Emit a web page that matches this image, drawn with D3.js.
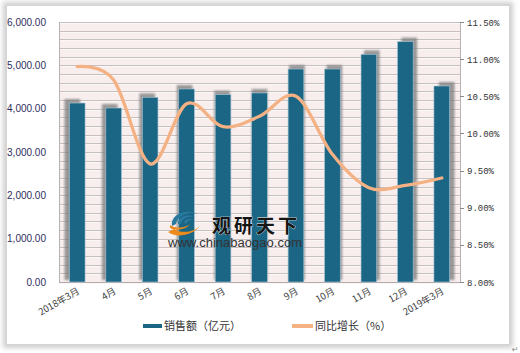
<!DOCTYPE html>
<html><head><meta charset="utf-8">
<script src="https://cdn.jsdelivr.net/npm/d3@7"></script>
<style>body{margin:0;background:#fff}svg{display:block}</style>
</head><body>
<svg id="c" width="520" height="353"></svg>
<script>
const categories = ["2018年3月","4月","5月","6月","7月","8月","9月","10月","11月","12月","2019年3月"];
const sales = [4130, 4015, 4262, 4454, 4323, 4362, 4915, 4915, 5254, 5546, 4523];
const growth = [10.90, 10.72, 9.59, 10.40, 10.09, 10.23, 10.50, 9.72, 9.27, 9.30, 9.40];
const leftTicks = [0,1000,2000,3000,4000,5000,6000];
const rightTicks = [8.0,8.5,9.0,9.5,10.0,10.5,11.0,11.5];
const seriesNames = ["销售额（亿元）","同比增长（%）"];

const svg = d3.select("#c");
const W=520,H=353;
const L=59,R=460,T=22,B=282;

const defs = svg.append("defs");
const f1 = defs.append("filter").attr("id","blur").attr("x","-50%").attr("y","-50%").attr("width","200%").attr("height","200%");
f1.append("feGaussianBlur").attr("stdDeviation",1.3);
const f2 = defs.append("filter").attr("id","fblur").attr("x","-10%").attr("y","-10%").attr("width","120%").attr("height","120%");
f2.append("feGaussianBlur").attr("stdDeviation",2.5);

// frame with shadow
svg.append("rect").attr("x",0).attr("y",0).attr("width",W).attr("height",H).attr("fill","#fff");
svg.append("rect").attr("x",3).attr("y",2).attr("width",510).attr("height",346).attr("fill","#cfcfcf").attr("filter","url(#fblur)");
svg.append("rect").attr("x",6.5).attr("y",5.5).attr("width",503).attr("height",339).attr("fill","#fff").attr("stroke","#d4d4d4");

const x = d3.scalePoint().domain(categories).range([L,R]).padding(0.5);
const step = x.step();
const bw = step*0.43;
const y = d3.scaleLinear().domain([0,6000]).range([B,T]);
const y2 = d3.scaleLinear().domain([8,11.5]).range([B,T]);

// plot background
svg.append("rect").attr("x",L).attr("y",T).attr("width",R-L).attr("height",B-T).attr("fill","#f8eeee");
// gridlines every 200
const grid = d3.range(0,6001,200);
svg.append("g").selectAll("line").data(grid).join("line")
  .attr("x1",L).attr("x2",R).attr("y1",d=>Math.round(y(d))+0.5).attr("y2",d=>Math.round(y(d))+0.5)
  .attr("stroke","#c6c0c0").attr("stroke-width",1);
svg.append("g").selectAll("line").data(grid).join("line")
  .attr("x1",L).attr("x2",R).attr("y1",d=>Math.round(y(d))+1.5).attr("y2",d=>Math.round(y(d))+1.5)
  .attr("stroke","#fbf7f7").attr("stroke-width",1);
// walls
svg.append("line").attr("x1",L+0.5).attr("x2",L+0.5).attr("y1",T).attr("y2",B).attr("stroke","#b8b2b2");
svg.append("line").attr("x1",R+0.5).attr("x2",R+0.5).attr("y1",T).attr("y2",B).attr("stroke","#b8b2b2");
svg.append("line").attr("x1",L).attr("x2",R).attr("y1",B+0.5).attr("y2",B+0.5).attr("stroke","#b0aaaa");

const mid = (L+R)/2;
// bar shadows
svg.append("g").attr("filter","url(#blur)").selectAll("rect").data(sales).join("rect")
  .attr("x",(d,i)=>x(categories[i])-bw/2+(x(categories[i])-mid)*0.027)
  .attr("y",d=>y(d)-4).attr("width",bw).attr("height",d=>B-y(d)+4-2)
  .attr("fill","#7a7a7a").attr("opacity",0.75);
// bars
svg.append("g").selectAll("rect").data(sales).join("rect")
  .attr("x",(d,i)=>x(categories[i])-bw/2).attr("y",d=>y(d)).attr("width",bw).attr("height",d=>B-y(d))
  .attr("fill","#1b6585").attr("stroke","#a9c7d6").attr("stroke-width",0.6);

// watermark
const wm = svg.append("g");
wm.append("path").attr("d","M172,226 C170,214 186,208 198,214 C190,211 178,214 176,224 Z").attr("fill","#2a7aa0");
wm.append("path").attr("d","M178,224 C177,217 187,213 195,217 C188,216 182,218 181,224 Z").attr("fill","#2a7aa0");
wm.append("path").attr("d","M184,222 C185,219 190,218 193,220 C189,220 187,221 186,224 Z").attr("fill","#2a7aa0");
wm.append("path").attr("d","M168,232 C176,238 192,236 200,226 C194,232 182,234 174,229 Z").attr("fill","#ec8a1c");
wm.append("path").attr("d","M170,225 C176,229 186,228 190,224 C186,230 176,231 170,228 Z").attr("fill","#ec8a1c");
wm.append("text").attr("x",212).attr("y",233).attr("font-family","Noto Sans CJK SC").attr("font-weight","bold")
  .attr("font-size",19).attr("letter-spacing",3).attr("fill","#151515").attr("stroke","#fff").attr("stroke-width",0.6).attr("paint-order","stroke")
  .text("观研天下");
wm.append("text").attr("x",168).attr("y",247).attr("font-family","Liberation Sans, Arial").attr("font-size",12)
  .attr("textLength",134).attr("lengthAdjust","spacingAndGlyphs").attr("fill","#333").text("www.chinabaogao.com");

// line
const line = d3.line().x((d,i)=>x(categories[i])).y(d=>y2(d)).curve(d3.curveCardinal.tension(0));
svg.append("path").datum(growth).attr("d",line).attr("fill","none").attr("stroke","#f4b183").attr("stroke-width",3.3).attr("stroke-linecap","round");

// left axis labels
svg.append("g").selectAll("text").data(leftTicks).join("text")
  .attr("x",46).attr("y",d=>y(d)+3.5).attr("text-anchor","end")
  .attr("font-family","Liberation Sans, Arial").attr("font-size",10).attr("fill","#2e2e5e")
  .text(d=>d3.format(",.2f")(d));
// right axis ticks & labels
svg.append("g").selectAll("line").data(rightTicks).join("line")
  .attr("x1",R).attr("x2",R+4).attr("y1",d=>Math.round(y2(d))+0.5).attr("y2",d=>Math.round(y2(d))+0.5).attr("stroke","#888");
svg.append("g").selectAll("text").data(rightTicks).join("text")
  .attr("x",467).attr("y",d=>y2(d)+3.5)
  .attr("font-family","Liberation Mono, DejaVu Sans Mono").attr("font-size",9).attr("fill","#333")
  .text(d=>d3.format(".2f")(d)+"%");

// x labels
svg.append("g").selectAll("text").data(categories).join("text")
  .attr("transform",d=>`translate(${x(d)+3},${B+11}) rotate(-30)`).attr("text-anchor","end")
  .attr("font-family","Noto Sans CJK SC").attr("font-size",9.5).attr("fill","#404040")
  .text(d=>d);

// legend
const lg = svg.append("g");
lg.append("line").attr("x1",143).attr("x2",162).attr("y1",326).attr("y2",326).attr("stroke","#1b6585").attr("stroke-width",4);
lg.append("text").attr("x",164).attr("y",330).attr("font-family","Noto Sans CJK SC").attr("font-size",11).attr("fill","#333").text(seriesNames[0]);
lg.append("line").attr("x1",292).attr("x2",313).attr("y1",326).attr("y2",326).attr("stroke","#f4b183").attr("stroke-width",4);
lg.append("text").attr("x",315).attr("y",330).attr("font-family","Noto Sans CJK SC").attr("font-size",11).attr("fill","#333").text(seriesNames[1]);

svg.append("text").attr("x",512).attr("y",352).attr("font-size",8).attr("fill","#888").attr("font-family","DejaVu Sans").text("↵");
</script>
</body></html>
